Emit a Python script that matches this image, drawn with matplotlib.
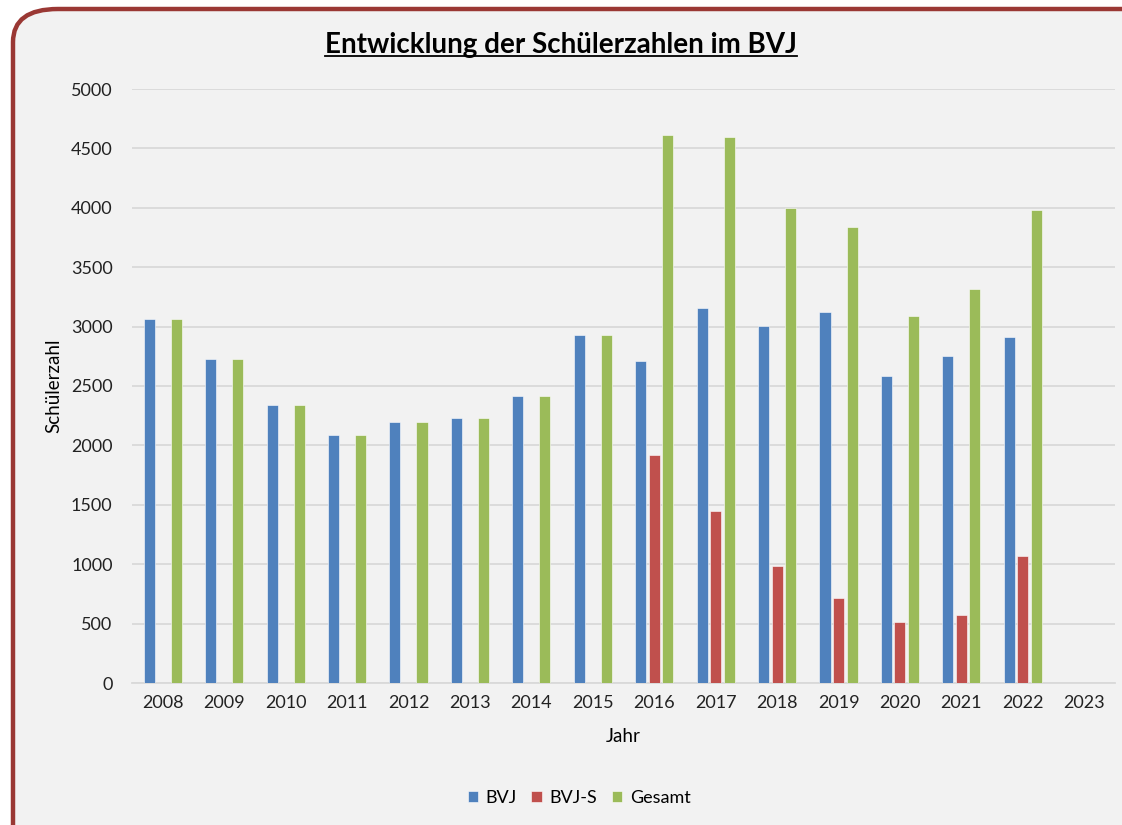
"""Entwicklung der Schuelerzahlen im BVJ - grouped bar chart."""

import matplotlib
matplotlib.use("Agg")
import matplotlib.pyplot as plt
import numpy as np
from matplotlib.patches import FancyBboxPatch

YEARS = ["2008", "2009", "2010", "2011", "2012", "2013", "2014", "2015",
         "2016", "2017", "2018", "2019", "2020", "2021", "2022", "2023"]
BVJ = [3060, 2725, 2337, 2090, 2197, 2233, 2416, 2929,
       2710, 3157, 3008, 3123, 2584, 2752, 2912, 0]
BVJ_S = [0, 0, 0, 0, 0, 0, 0, 0,
         1916, 1448, 985, 713, 511, 572, 1066, 0]
GESAMT = [3060, 2725, 2337, 2090, 2197, 2233, 2416, 2929,
          4613, 4596, 3996, 3836, 3087, 3316, 3981, 0]
SERIES = ["BVJ", "BVJ-S", "Gesamt"]
COLORS = ["#4F81BD", "#C0504D", "#9BBB59"]

plt.rcParams["font.family"] = ["Lato", "DejaVu Sans"]

fig = plt.figure(figsize=(11.22, 8.25), dpi=100, facecolor="white")

# rounded frame of the chart area
frame = FancyBboxPatch((13 / 1122, -0.05), 1.1, 1 - 9 / 825 + 0.05,
                       boxstyle="round,pad=0,rounding_size=0.04",
                       transform=fig.transFigure, facecolor="#F2F2F2",
                       edgecolor="#9A3834", linewidth=3.2, zorder=-5)
fig.patches.append(frame)

ax = fig.add_axes([132 / 1122, 1 - 683 / 825, (1115 - 132) / 1122, (683 - 89) / 825])
ax.set_zorder(2)
ax.set_facecolor("none")

x = np.arange(len(YEARS))
pitch = 0.22
width = 0.18
for i, (name, vals, col) in enumerate(zip(SERIES, [BVJ, BVJ_S, GESAMT], COLORS)):
    ax.bar(x + (i - 1) * pitch, vals, width, color=col, label=name,
           edgecolor="#FFFFFF", linewidth=0.4, zorder=3)

ax.set_xlim(-0.5, len(YEARS) - 0.5)
ax.set_ylim(0, 5000)
ax.set_yticks(range(0, 5001, 500))
ax.set_xticks(x)
ax.set_xticklabels(YEARS)
ax.tick_params(axis="both", length=0, labelsize=13, colors="#222222")
ax.tick_params(axis="x", pad=9)
ax.tick_params(axis="y", pad=14)
ax.grid(axis="y", color="#D9D9D9", linewidth=1.3, zorder=0)
for side in ["top", "right", "left"]:
    ax.spines[side].set_visible(False)
ax.spines["bottom"].set_color("#D9D9D9")
ax.spines["bottom"].set_linewidth(1.3)

ax.set_xlabel("Jahr", fontsize=13.5, labelpad=12)
ax.set_ylabel("Schülerzahl", fontsize=13.5, labelpad=6)

title = fig.text(561 / 1122, 1 - 45 / 825, "Entwicklung der Schülerzahlen im BVJ",
                 ha="center", va="center", fontsize=20, fontweight="bold")

fig.legend(loc="center", bbox_to_anchor=(579 / 1122, 1 - 798 / 825), ncol=3,
           frameon=False, fontsize=13, handlelength=0.6, handleheight=0.6,
           handletextpad=0.4, columnspacing=0.8)

# underline the title
fig.canvas.draw()
bb = title.get_window_extent().transformed(fig.transFigure.inverted())
fig.add_artist(plt.Line2D([bb.x0, bb.x1], [bb.y0 + 0.002, bb.y0 + 0.002],
                          color="black", linewidth=1.3, transform=fig.transFigure))

fig.savefig("out.png", dpi=100, facecolor="white")
